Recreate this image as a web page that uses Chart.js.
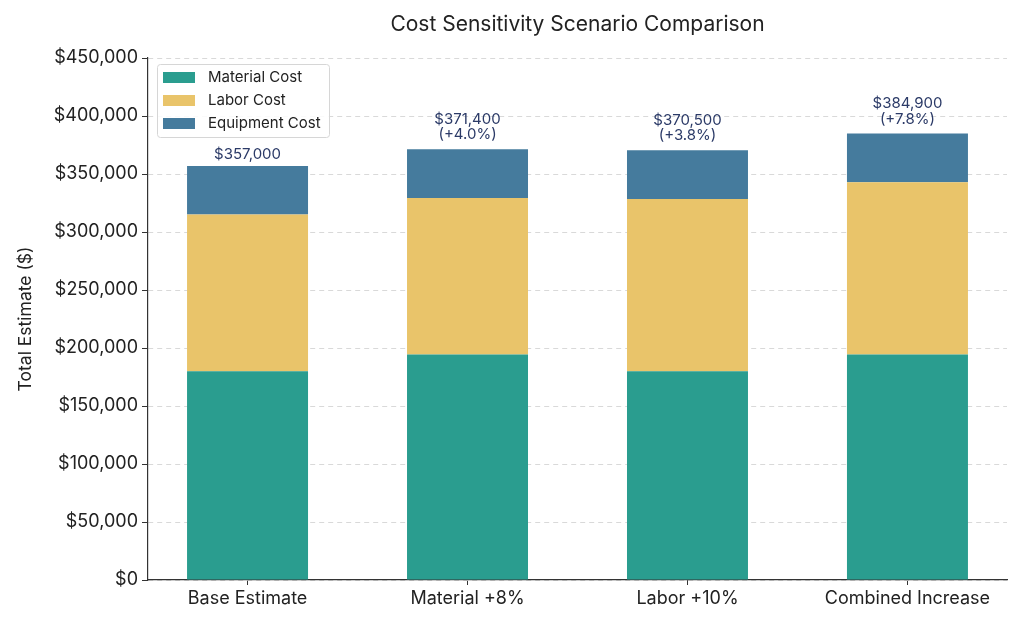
<!DOCTYPE html>
<html>
<head>
<meta charset="utf-8">
<script src="https://cdn.jsdelivr.net/npm/chart.js@4.4.1/dist/chart.umd.min.js"></script>
<style>
  html, body { margin: 0; padding: 0; background: #fff; }
  #wrap { width: 1024px; height: 626px; }
</style>
</head>
<body>
<div id="wrap"><canvas id="cost-chart" width="1024" height="626"></canvas></div>
<script>
const scenarios = ['Base Estimate', 'Material +8%', 'Labor +10%', 'Combined Increase'];
const materialCost = [180000, 194400, 180000, 194400];
const laborCost = [135000, 135000, 148500, 148500];
const equipmentCost = [42000, 42000, 42000, 42000];
const yMax = 450000;
const yStep = 50000;

const FONT = 'Inter, "Open Sans", sans-serif';
const TEXT = '#222222';
const NAVY = '#2b3a67';

function toPoints(values) {
    return values.map((v, i) => ({ x: i, y: v }));
}

function money(v) {
    return '$' + v.toLocaleString('en-US');
}

const totals = scenarios.map((_, i) => materialCost[i] + laborCost[i] + equipmentCost[i]);

// title centred over the plot area, like the original
const titlePlugin = {
    id: 'plotTitle',
    afterDraw(chart) {
        const { ctx, chartArea } = chart;
        ctx.save();
        ctx.font = '21px ' + FONT;
        ctx.fillStyle = TEXT;
        ctx.textAlign = 'center';
        ctx.textBaseline = 'middle';
        ctx.fillText('Cost Sensitivity Scenario Comparison', (chartArea.left + chartArea.right) / 2, 25);
        ctx.restore();
    }
};

// total labels above each stack
const totalsPlugin = {
    id: 'stackTotals',
    afterDatasetsDraw(chart) {
        const { ctx } = chart;
        const top = chart.getDatasetMeta(chart.data.datasets.length - 1);
        ctx.save();
        ctx.font = '15px ' + FONT;
        ctx.fillStyle = NAVY;
        ctx.textAlign = 'center';
        ctx.textBaseline = 'alphabetic';
        top.data.forEach((bar, i) => {
            const lines = [money(totals[i])];
            if (i > 0) {
                const pct = (totals[i] / totals[0] - 1) * 100;
                lines.push('(+' + pct.toFixed(1) + '%)');
            }
            let y = bar.y - (lines.length > 1 ? 10 : 7);
            for (let k = lines.length - 1; k >= 0; k--) {
                ctx.fillText(lines[k], bar.x, y);
                y -= 15.5;
            }
        });
        ctx.restore();
    }
};

// legend box inside the plot, top-left
const legendPlugin = {
    id: 'boxLegend',
    afterDraw(chart) {
        const { ctx, chartArea } = chart;
        const x = chartArea.left + 9;
        const y = chartArea.top + 6;
        const w = 172, h = 73;
        ctx.save();
        ctx.fillStyle = 'rgba(255,255,255,0.85)';
        ctx.strokeStyle = '#d6d6d6';
        ctx.lineWidth = 1;
        ctx.beginPath();
        ctx.roundRect(x + 0.5, y + 0.5, w, h, 3);
        ctx.fill();
        ctx.stroke();
        ctx.font = '15px ' + FONT;
        ctx.textBaseline = 'middle';
        chart.data.datasets.forEach((ds, i) => {
            const cy = y + 13 + i * 23;
            ctx.fillStyle = ds.backgroundColor;
            ctx.fillRect(x + 6, cy - 5, 32, 11);
            ctx.fillStyle = TEXT;
            ctx.fillText(ds.label, x + 51, cy);
        });
        ctx.restore();
    }
};

const ctx = document.getElementById('cost-chart').getContext('2d');
new Chart(ctx, {
    type: 'bar',
    data: {
        datasets: [{
            label: 'Material Cost',
            data: toPoints(materialCost),
            backgroundColor: '#2a9d8f'
        }, {
            label: 'Labor Cost',
            data: toPoints(laborCost),
            backgroundColor: '#e9c46a'
        }, {
            label: 'Equipment Cost',
            data: toPoints(equipmentCost),
            backgroundColor: '#457b9d'
        }].map(ds => Object.assign(ds, {
            borderWidth: 0,
            categoryPercentage: 1,
            barPercentage: 0.55
        }))
    },
    options: {
        responsive: false,
        animation: false,
        layout: { padding: { top: 58, right: 17, left: 0, bottom: 0 } },
        plugins: {
            legend: { display: false },
            title: { display: false },
            tooltip: { enabled: false }
        },
        scales: {
            x: {
                type: 'linear',
                stacked: true,
                offset: false,
                min: -0.4525,
                max: 3.4525,
                afterBuildTicks(axis) {
                    axis.ticks = scenarios.map((_, i) => ({ value: i }));
                },
                afterFit(axis) { axis.height = 46; },
                ticks: {
                    callback: (v) => scenarios[v],
                    color: TEXT,
                    font: { family: FONT, size: 18 },
                    padding: 3,
                    maxRotation: 0,
                    autoSkip: false
                },
                grid: {
                    offset: false,
                    drawOnChartArea: false,
                    tickLength: 5,
                    tickColor: '#333333'
                },
                border: { color: '#333333', width: 1.2 }
            },
            y: {
                stacked: true,
                min: 0,
                max: yMax,
                afterFit(axis) { axis.width = 148; },
                ticks: {
                    stepSize: yStep,
                    callback: (v) => money(v),
                    color: TEXT,
                    font: { family: FONT, size: 18 },
                    padding: 4
                },
                grid: {
                    color: '#d9d9d9',
                    tickLength: 6,
                    tickColor: '#333333',
                    tickBorderDash: []
                },
                border: { color: '#333333', width: 1.2, dash: [5, 4] },
                title: {
                    display: true,
                    text: 'Total Estimate ($)',
                    color: TEXT,
                    font: { family: FONT, size: 17.5 },
                    padding: { top: 15, bottom: 0 }
                }
            }
        }
    },
    plugins: [titlePlugin, totalsPlugin, legendPlugin]
});
</script>
</body>
</html>
